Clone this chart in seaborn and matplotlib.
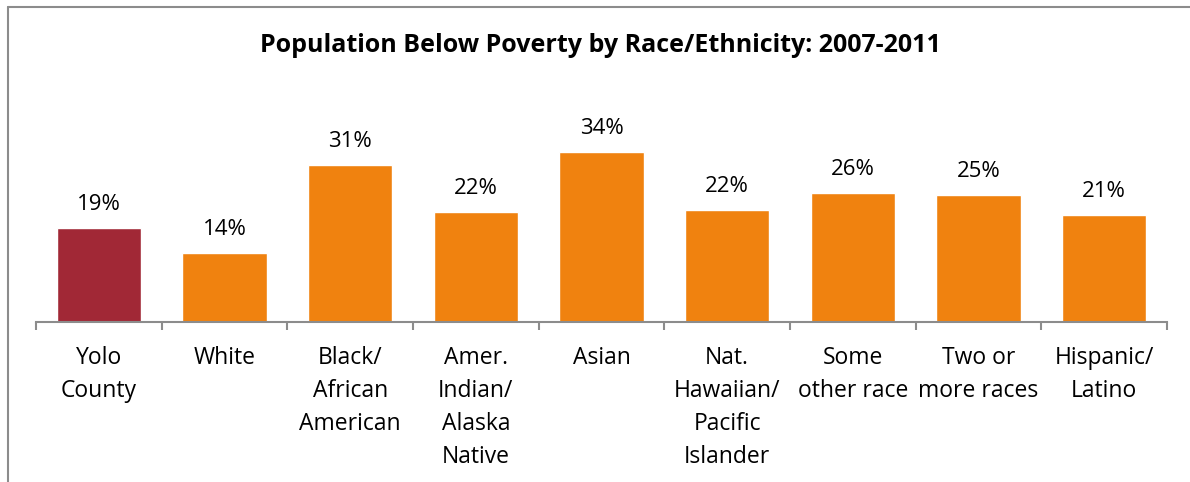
import numpy as np
import pandas as pd
import seaborn as sns
import matplotlib.pyplot as plt
from matplotlib.lines import Line2D

# data
categories = ["Yolo\nCounty", "White", "Black/\nAfrican\nAmerican", "Amer.\nIndian/\nAlaska\nNative",
              "Asian", "Nat.\nHawaiian/\nPacific\nIslander", "Some\nother race", "Two or\nmore races",
              "Hispanic/\nLatino"]
values = [18.8, 13.8, 31.4, 22.0, 34.0, 22.4, 25.8, 25.4, 21.4]
labels = ["19%", "14%", "31%", "22%", "34%", "22%", "26%", "25%", "21%"]
bar_colors = ["#A12836"] + ["#F0820F"] * 8

sns.set_theme(style="white")
plt.rcParams['font.family'] = ['Open Sans', 'DejaVu Sans']

df = pd.DataFrame({"cat": categories, "val": values})

fig = plt.figure(figsize=(11.9, 4.82), dpi=100)
ax = fig.add_axes([36 / 1190, 160 / 482, 1131 / 1190, 250 / 482])

sns.barplot(data=df, x="cat", y="val", hue="cat", palette=bar_colors, legend=False,
            width=0.67, saturation=1, ax=ax)

ax.set_ylim(0, 50)
ax.set_xlim(-0.5, len(categories) - 0.5)
ax.set_xlabel("")
ax.set_ylabel("")
ax.set_yticks([])
for s in ["top", "right", "left"]:
    ax.spines[s].set_visible(False)
ax.spines["bottom"].set_color("#8C8C8C")
ax.spines["bottom"].set_linewidth(1.5)

# category labels, ticks at the boundaries
ax.set_xticks(range(len(categories)))
ax.set_xticklabels(categories, fontsize=16.5, color="black", linespacing=1.5, va="top")
ax.tick_params(axis="x", which="major", bottom=True, length=0, pad=17.5)
ax.set_xticks(np.arange(-0.5, len(categories), 1), minor=True)
ax.tick_params(axis="x", which="minor", bottom=True, length=6, width=1.5,
               color="#8C8C8C", direction="out")

for i, (v, lab) in enumerate(zip(values, labels)):
    ax.text(i, v + 2.6, lab, ha="center", va="bottom", fontsize=16, color="black")

fig.text(600 / 1190, 1 - 46 / 482, "Population Below Poverty by Race/Ethnicity: 2007-2011",
         ha="center", va="center", fontsize=18, fontweight="bold", color="black")

# outer chart frame (left and top edges)
fig.add_artist(Line2D([7.5 / 1190, 7.5 / 1190], [0, 1 - 6.5 / 482], color="#8C8C8C", lw=1.5,
                      transform=fig.transFigure))
fig.add_artist(Line2D([7.5 / 1190, 1], [1 - 6.5 / 482, 1 - 6.5 / 482], color="#8C8C8C", lw=1.5,
                      transform=fig.transFigure))

fig.savefig("out.png", dpi=100)
